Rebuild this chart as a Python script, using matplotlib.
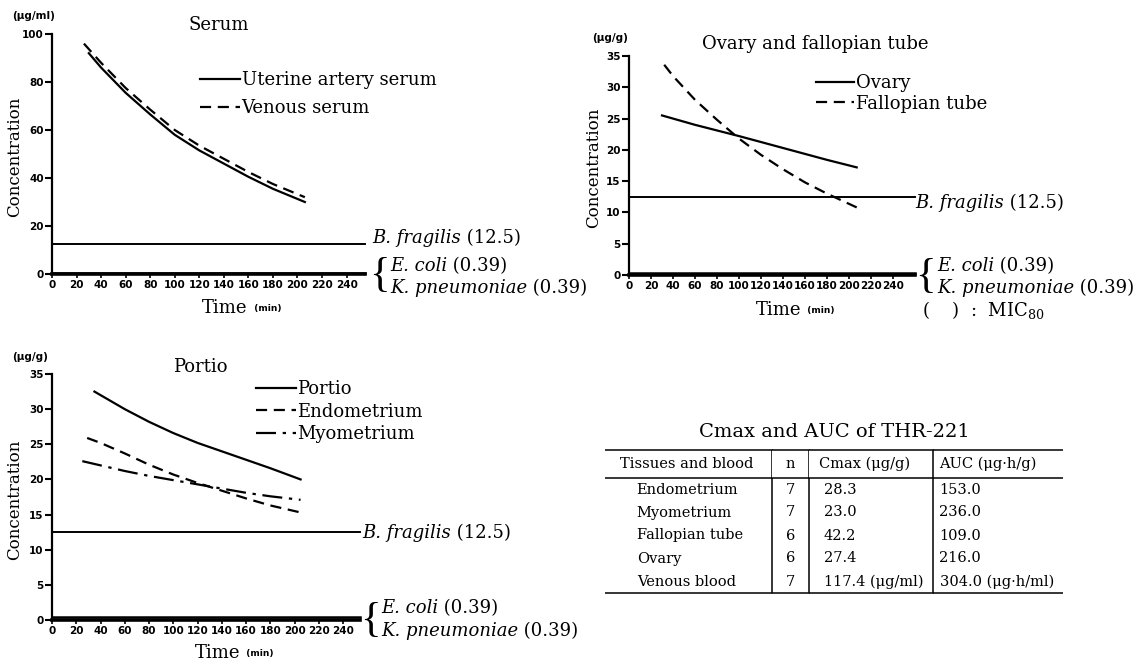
import matplotlib
matplotlib.use("Agg")
import matplotlib.pyplot as plt

plt.rcParams['font.family'] = ['DejaVu Serif']
plt.rcParams['mathtext.fontset'] = 'dejavuserif'

# ---------------- data ----------------
time_ticks = [0, 20, 40, 60, 80, 100, 120, 140, 160, 180, 200, 220, 240]

# Serum (ug/ml)
uterine_t = [30, 40, 60, 80, 100, 120, 140, 160, 180, 206]
uterine_c = [92, 86, 75.5, 66.5, 58, 51.5, 46, 40.5, 35.5, 30]
venous_t = [26, 40, 60, 80, 100, 120, 140, 160, 180, 206]
venous_c = [96, 88, 77.5, 68.5, 60, 53.5, 48, 42.5, 37.5, 32]

# Ovary and fallopian tube (ug/g)
ovary_t = [30, 60, 100, 140, 180, 207]
ovary_c = [25.5, 24.0, 22.2, 20.3, 18.4, 17.2]
tube_t = [32, 40, 60, 80, 100, 120, 140, 160, 180, 207]
tube_c = [33.6, 31.8, 28.0, 24.8, 21.8, 19.2, 16.9, 14.8, 13.0, 10.8]

# Portio (ug/g)
portio_t = [35, 40, 60, 80, 100, 120, 140, 160, 180, 205]
portio_c = [32.5, 32.0, 30.0, 28.2, 26.6, 25.2, 24.0, 22.8, 21.6, 20.0]
endo_t = [29, 40, 60, 80, 100, 120, 140, 160, 180, 205]
endo_c = [25.9, 25.2, 23.7, 22.1, 20.7, 19.5, 18.4, 17.3, 16.3, 15.3]
myo_t = [25, 40, 60, 80, 100, 120, 140, 160, 180, 205]
myo_c = [22.6, 22.0, 21.2, 20.5, 19.9, 19.3, 18.7, 18.1, 17.6, 17.1]

# MIC80 values
mic_bfragilis = 12.5
mic_ecoli = 0.39

# Table
table_title = "Cmax and AUC of THR-221"
col_labels = ["Tissues and blood", "n", "Cmax (μg/g)", "AUC (μg·h/g)"]
tissues = ["Endometrium", "Myometrium", "Fallopian tube", "Ovary", "Venous blood"]
n_vals = ["7", "7", "6", "6", "7"]
cmax_vals = ["28.3", "23.0", "42.2", "27.4", "117.4 (μg/ml)"]
auc_vals = ["153.0", "236.0", "109.0", "216.0", "304.0 (μg·h/ml)"]

# ---------------- figure ----------------
W, H = 1141, 664
fig = plt.figure(figsize=(W / 100, H / 100), dpi=100)


def px_axes(l, t, r, b):
    return fig.add_axes([l / W, 1 - b / H, (r - l) / W, (b - t) / H])


def fx(x):
    return x / W


def fy(y):
    return 1 - y / H


def style(ax, xmax, ymax, yticks):
    ax.set_xlim(0, xmax)
    ax.set_ylim(0, ymax)
    for s in ['top', 'right']:
        ax.spines[s].set_visible(False)
    ax.spines['left'].set_linewidth(1.6)
    ax.spines['bottom'].set_linewidth(2.6)
    ax.set_xticks(time_ticks)
    ax.set_xticklabels([str(v) for v in time_ticks])
    ax.set_yticks(yticks)
    ax.set_yticklabels([str(v) for v in yticks])
    ax.tick_params(axis='y', direction='out', length=5, width=1.5, pad=1, labelsize=7.5)
    ax.tick_params(axis='x', direction='out', length=3, width=1.2, pad=1.5, labelsize=7.5)
    for lab in ax.get_xticklabels() + ax.get_yticklabels():
        lab.set_fontfamily('DejaVu Sans')
        lab.set_fontweight('bold')
    ax.patch.set_alpha(0)


def mic_lines(ax):
    ax.axhline(mic_bfragilis, color='black', lw=1.4, clip_on=False)
    ax.axhline(mic_ecoli, color='black', lw=1.8, clip_on=False)


def rich(x, y, parts, size=13):
    t = fig.text(fx(x), fy(y), parts[0][0], fontstyle=parts[0][1], fontsize=size,
                 va='center', ha='left')
    prev = t
    for txt, st in parts[1:]:
        prev = fig.axes[0].annotate(txt, xy=(1, 0), xycoords=prev, va='bottom', ha='left',
                                    fontstyle=st, fontsize=size, annotation_clip=False)
    return t


def brace(x, y):
    fig.text(fx(x), fy(y), '{', fontsize=31, va='center', ha='left',
             family='Liberation Serif', fontweight='light')


def unit(x, y, s):
    fig.text(fx(x), fy(y), s, fontsize=7.5, fontweight='bold', family='DejaVu Sans',
             va='center', ha='left')


def time_label(x, y):
    t = fig.text(fx(x), fy(y), 'Time', fontsize=13, va='center', ha='left')
    fig.axes[0].annotate('  (min)', xy=(1, 0.2), xycoords=t, va='bottom', ha='left',
                         fontsize=6.5, fontweight='bold', family='DejaVu Sans',
                         annotation_clip=False)


def conc_label(x, y):
    fig.text(fx(x), fy(y), 'Concentration', rotation=90, fontsize=12, va='center', ha='center')


dash = (0, (5, 3))
dashdot = (0, (9, 3, 1.5, 3))

# ---- Serum ----
ax1 = px_axes(52, 34, 365, 274)
style(ax1, 255, 100, [0, 20, 40, 60, 80, 100])
mic_lines(ax1)
ax1.plot(uterine_t, uterine_c, color='black', lw=1.6, label='Uterine artery serum')
ax1.plot(venous_t, venous_c, color='black', lw=1.6, ls=dash, label='Venous serum')
ax1.legend(loc='upper left', bbox_to_anchor=(fx(200), fy(71)), bbox_transform=fig.transFigure,
           frameon=False, fontsize=13, handlelength=2.2, handletextpad=0.1,
           borderpad=0, borderaxespad=0, labelspacing=0.55)
fig.text(fx(219), fy(25), 'Serum', fontsize=13, ha='center', va='center')
unit(12, 16, '(μg/ml)')
conc_label(15, 157)
time_label(202, 308)
rich(372, 238, [('B. fragilis', 'italic'), (' (12.5)', 'normal')])
brace(369, 276)
rich(390, 266, [('E. coli', 'italic'), (' (0.39)', 'normal')])
rich(390, 288, [('K. pneumoniae', 'italic'), (' (0.39)', 'normal')])

# ---- Ovary and fallopian tube ----
ax2 = px_axes(629, 56, 915, 275)
style(ax2, 260, 35, [0, 5, 10, 15, 20, 25, 30, 35])
mic_lines(ax2)
ax2.plot(ovary_t, ovary_c, color='black', lw=1.6, label='Ovary')
ax2.plot(tube_t, tube_c, color='black', lw=1.6, ls=dash, label='Fallopian tube')
ax2.legend(loc='upper left', bbox_to_anchor=(fx(816), fy(74)), bbox_transform=fig.transFigure,
           frameon=False, fontsize=13, handlelength=2.1, handletextpad=0.1,
           borderpad=0, borderaxespad=0, labelspacing=0.15)
fig.text(fx(815), fy(44), 'Ovary and fallopian tube', fontsize=13, ha='center', va='center')
unit(592, 38, '(μg/g)')
conc_label(594, 168)
time_label(756, 310)
rich(915, 203, [('B. fragilis', 'italic'), (' (12.5)', 'normal')])
brace(915, 277)
rich(937, 266, [('E. coli', 'italic'), (' (0.39)', 'normal')])
rich(937, 288, [('K. pneumoniae', 'italic'), (' (0.39)', 'normal')])
fig.text(fx(922), fy(310), '(    )  :  MIC$_{80}$', fontsize=13, va='center', ha='left')

# ---- Portio ----
ax3 = px_axes(52, 374, 360, 620)
style(ax3, 254, 35, [0, 5, 10, 15, 20, 25, 30, 35])
mic_lines(ax3)
ax3.plot(portio_t, portio_c, color='black', lw=1.6, label='Portio')
ax3.plot(endo_t, endo_c, color='black', lw=1.6, ls=dash, label='Endometrium')
ax3.plot(myo_t, myo_c, color='black', lw=1.6, ls=dashdot, label='Myometrium')
ax3.legend(loc='upper left', bbox_to_anchor=(fx(256), fy(380)), bbox_transform=fig.transFigure,
           frameon=False, fontsize=13, handlelength=2.2, handletextpad=0.1,
           borderpad=0, borderaxespad=0, labelspacing=0.25)
fig.text(fx(200), fy(367), 'Portio', fontsize=13, ha='center', va='center')
unit(12, 357, '(μg/g)')
conc_label(15, 500)
time_label(195, 653)
rich(362, 533, [('B. fragilis', 'italic'), (' (12.5)', 'normal')])
brace(360, 621)
rich(381, 608, [('E. coli', 'italic'), (' (0.39)', 'normal')])
rich(381, 631, [('K. pneumoniae', 'italic'), (' (0.39)', 'normal')])

# ---- Table ----
fig.text(fx(834), fy(432), table_title, fontsize=14, ha='center', va='center')
tax = px_axes(605, 450, 1063, 593)
tax.axis('off')
rows = [[tissues[i], n_vals[i], cmax_vals[i], auc_vals[i]] for i in range(len(tissues))]
col_w = [167, 37, 124, 130]
tbl = tax.table(cellText=rows, colLabels=col_labels, colWidths=[w / sum(col_w) for w in col_w],
                bbox=[0, 0, 1, 1], cellLoc='left', colLoc='left')
tbl.auto_set_font_size(False)
nrows = len(rows) + 1
pads_header = [0.09, 0.0, 0.08, 0.05]
pads_body = [0.19, 0.0, 0.12, 0.05]
for (r, c), cell in tbl.get_celld().items():
    cell.set_linewidth(1.1)
    cell.get_text().set_fontsize(10.5)
    cell.get_text().set_fontfamily('DejaVu Serif')
    if r == 0:
        cell.set_height(28)
        cell.visible_edges = 'TBR' if c < 3 else 'TB'
        cell.PAD = pads_header[c]
    else:
        cell.set_height(23)
        if r == nrows - 1:
            cell.visible_edges = 'BR' if c < 3 else 'B'
        else:
            cell.visible_edges = 'R' if c < 3 else 'open'
        cell.PAD = pads_body[c]
    if c == 1:
        cell._loc = 'center'
        cell.get_text().set_horizontalalignment('center')

fig.savefig('out.png', dpi=100)
